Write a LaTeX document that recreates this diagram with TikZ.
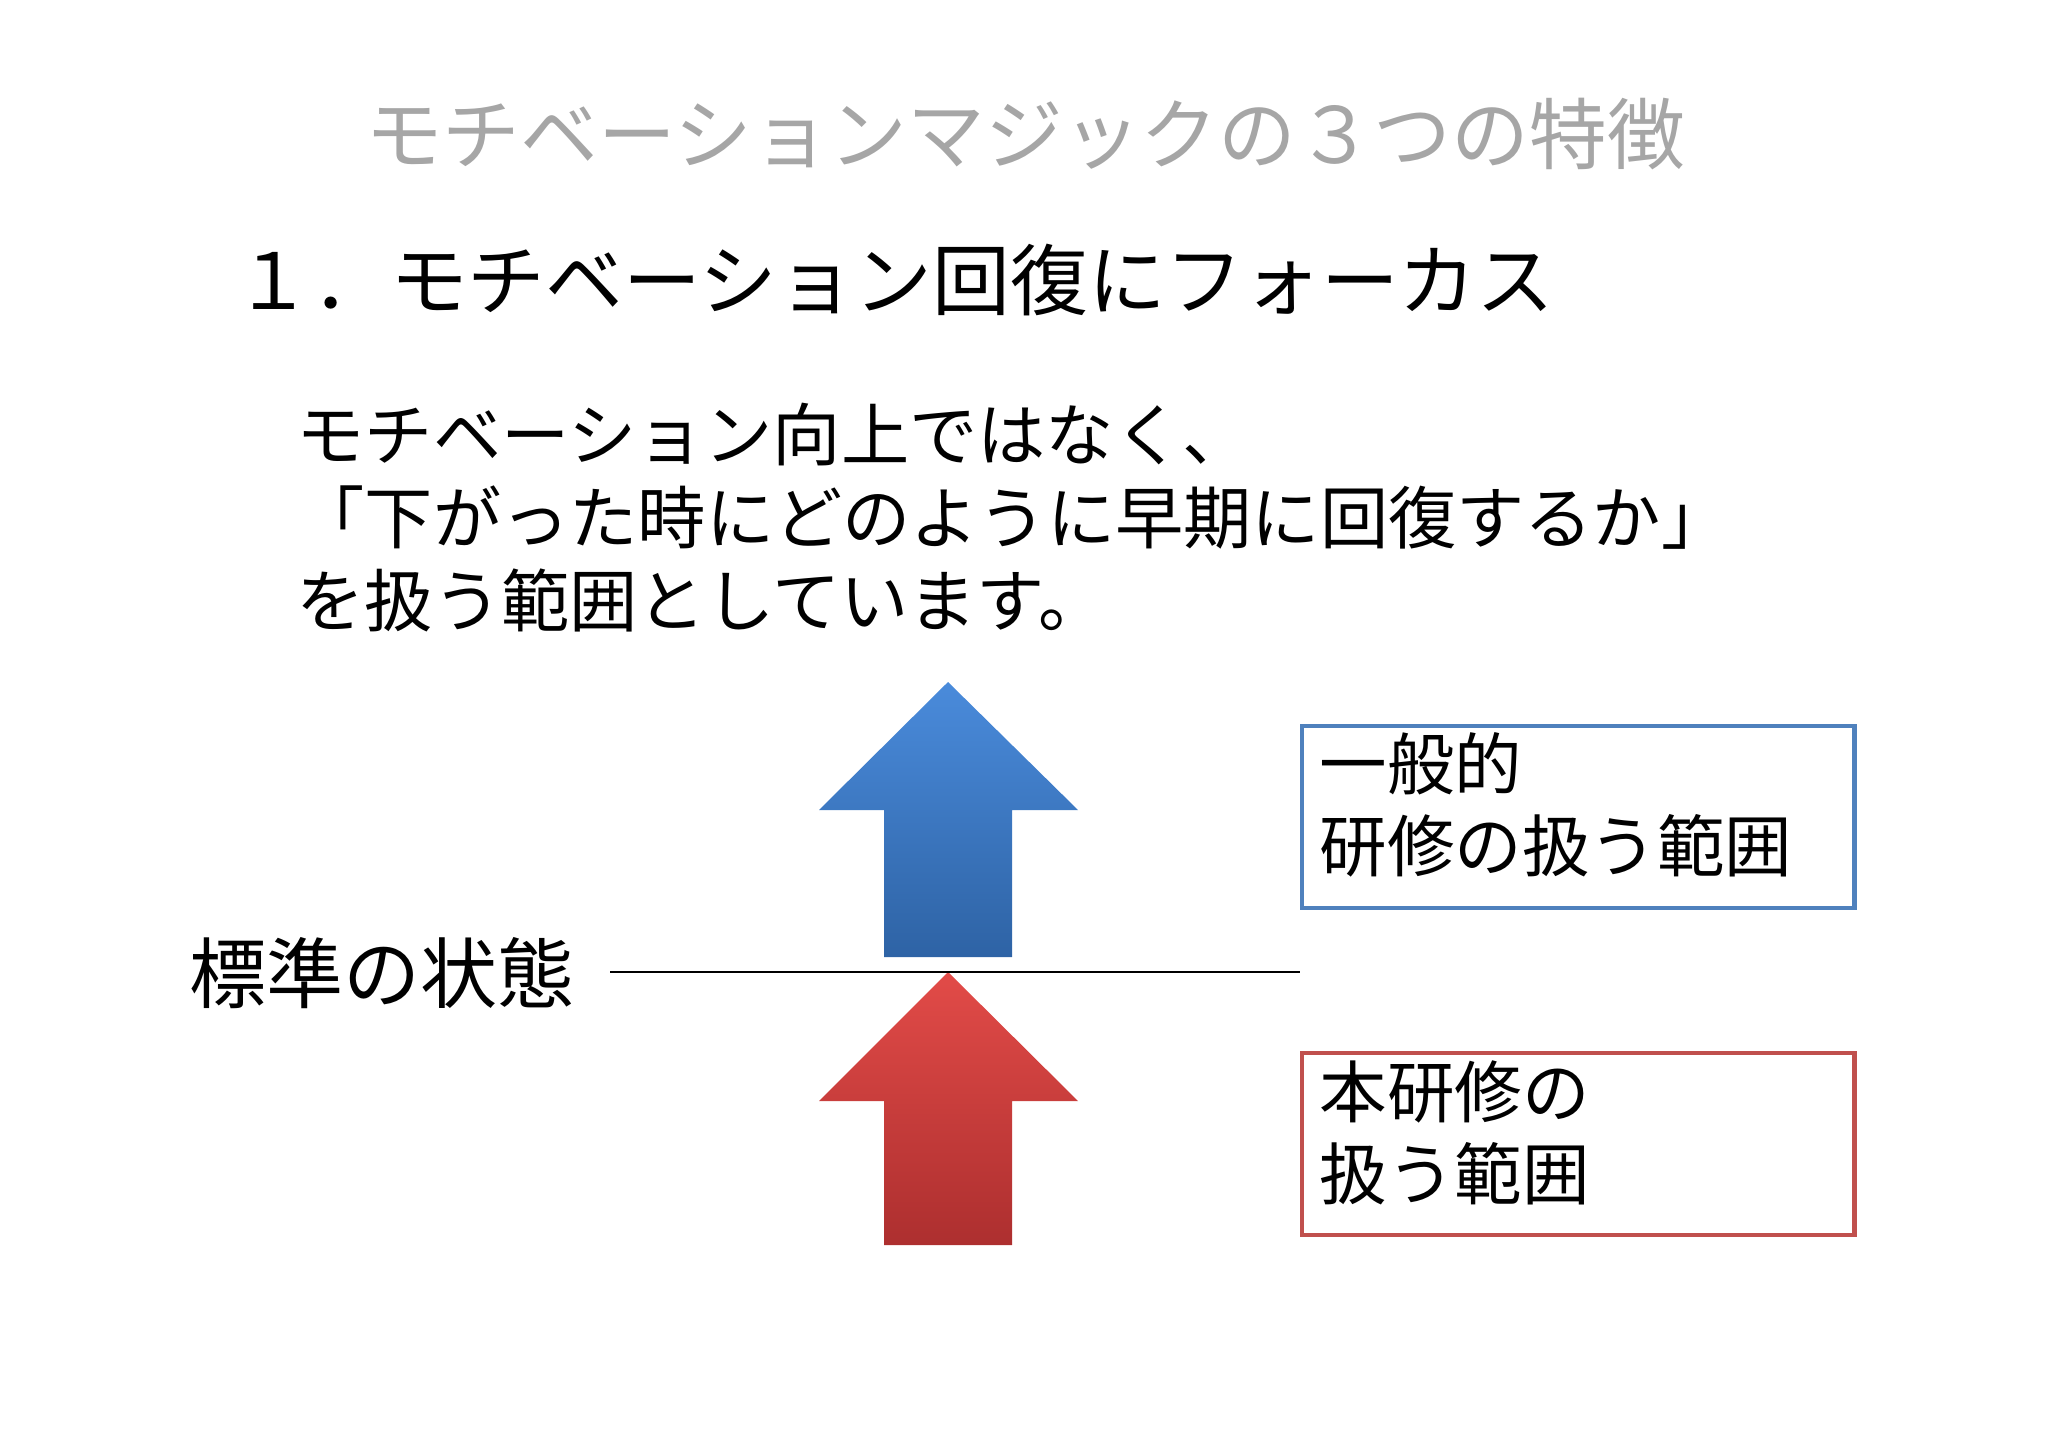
\documentclass[tikz,border=0pt]{standalone}
\usepackage{fontspec}
\newfontfamily\jpfont{Noto Sans CJK JP}
\usepackage{xcolor}
\definecolor{titlegray}{HTML}{A6A6A6}
\definecolor{boxblue}{HTML}{4F81BD}
\definecolor{boxred}{HTML}{C0504D}
\definecolor{upbluetop}{HTML}{4A8BDB}
\definecolor{upbluebot}{HTML}{2E63A5}
\definecolor{upredtop}{HTML}{E24B48}
\definecolor{upredbot}{HTML}{AD2F2F}
\usepackage{tikz}
\usetikzlibrary{positioning}

\begin{document}
\begin{tikzpicture}[x=0.01cm, y=-0.01cm, font=\jpfont,
  plaintext/.style={inner sep=0pt, font=\jpfont\fontsize{#1}{#1}\selectfont},
  scopebox/.style={rectangle, draw=#1, line width=1.2pt, anchor=north west,
    minimum width=5.52cm, minimum height=1.82cm, inner sep=0pt},
  boxtext/.style={inner sep=0pt, anchor=west, align=left,
    font=\jpfont\fontsize{19.2pt}{23.3pt}\selectfont},
  uparrow/.style={top color=#1top, bottom color=#1bot, draw=none}]
  \useasboundingbox (0,0) rectangle (2048,1448);

  % headings
  \node[plaintext=22.1pt, text=titlegray] (title) at (1025,134)
    {モチベーションマジックの３つの特徴};
  \node[plaintext=22.1pt, anchor=west] (point) at (234,280)
    {１．モチベーション回復にフォーカス};
  \node[inner sep=0pt, anchor=west, align=left,
    font=\jpfont\fontsize{19.4pt}{23.6pt}\selectfont] (body) at (296,518) {
    モチベーション向上ではなく、\\
    「下がった時にどのように早期に回復するか」\\
    を扱う範囲としています。
  };

  % arrows
  \path[uparrow=upblue] (948,682) -- (1078,810) -- (1012,810) -- (1012,957)
    -- (884,957) -- (884,810) -- (819,810) -- cycle;
  \path[uparrow=upred] (948,972) -- (1078,1101) -- (1012,1101) -- (1012,1245)
    -- (884,1245) -- (884,1101) -- (819,1101) -- cycle;

  % baseline
  \node[plaintext=21.9pt, anchor=west] (normal) at (189,973) {標準の状態};
  \coordinate (baseL) at (610,972);
  \coordinate (baseR) at (1300,972);
  \draw[line width=0.6pt] (baseL) -- (baseR);

  % ranges
  \node[scopebox=boxblue] (general) at (1300,724) {};
  \node[boxtext] (generaltext) at (1319,805) {一般的\\研修の扱う範囲};
  \node[scopebox=boxred] (ours) at (1300,1051) {};
  \node[boxtext] (ourstext) at (1319,1133) {本研修の\\扱う範囲};
\end{tikzpicture}
\end{document}
